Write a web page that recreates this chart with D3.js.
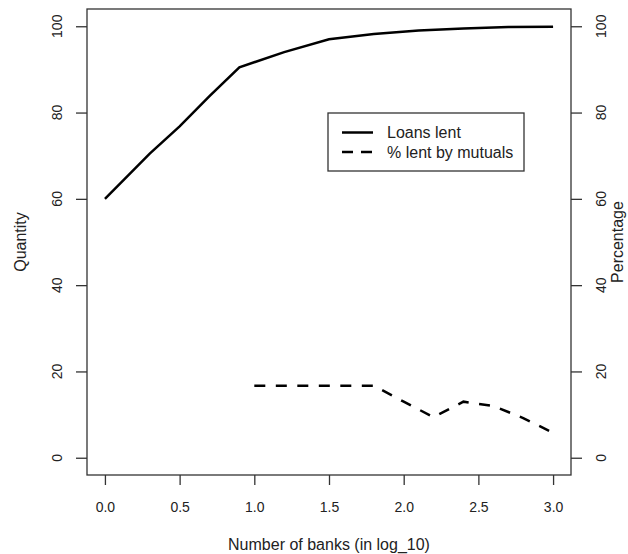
<!DOCTYPE html>
<html>
<head>
<meta charset="utf-8">
<script src="https://cdn.jsdelivr.net/npm/d3@7"></script>
<style>
  body { margin: 0; background: #fff; }
  text { font-family: "Liberation Sans", Arial, sans-serif; fill: #222; }
</style>
</head>
<body>
<div class="container"></div>
<script>
// Data
var loansX = [0, 0.3, 0.5, 0.7, 0.9, 1.2, 1.5, 1.8, 2.1, 2.4, 2.7, 3.0];
var loansY = [60, 70.5, 76.8, 83.8, 90.5, 94.0, 97.0, 98.2, 99.0, 99.5, 99.8, 99.9];
var mutualX = [1.0, 1.2, 1.4, 1.6, 1.8, 2.0, 2.2, 2.4, 2.6, 2.8, 3.0];
var mutualY = [16.7, 16.7, 16.7, 16.7, 16.7, 13.0, 9.4, 13.0, 12.0, 9.2, 5.8];
var xTicks = [0, 0.5, 1, 1.5, 2, 2.5, 3];
var yTicks = [0, 20, 40, 60, 80, 100];
var legendLabels = ['Loans lent', '% lent by mutuals'];

(function() {
  var opts = {
    width: 628,
    height: 554,
    left: 87,
    right: 571,
    top: 9,
    bottom: 475
  };

  var svg = d3.select('div.container').append('svg')
    .attr('width', opts.width).attr('height', opts.height);

  // R style scales, 4% padding on each side
  var x = d3.scaleLinear().domain([-0.12, 3.12]).range([opts.left, opts.right]);
  var y = d3.scaleLinear().domain([-4, 104]).range([opts.bottom, opts.top]);

  var line = d3.line()
    .x(function(d) { return x(d[0]); })
    .y(function(d) { return y(d[1]); });

  // plot box
  svg.append('rect')
    .attr('x', opts.left).attr('y', opts.top)
    .attr('width', opts.right - opts.left).attr('height', opts.bottom - opts.top)
    .attr('fill', 'none').attr('stroke', '#333').attr('stroke-width', 1.3);

  // bottom axis
  var xAxis = svg.append('g').attr('transform', 'translate(0,' + opts.bottom + ')')
    .call(d3.axisBottom(x).tickValues(xTicks).tickSize(10).tickFormat(d3.format('.1f')));
  xAxis.select('.domain').remove();
  xAxis.selectAll('line').attr('stroke', '#333').attr('stroke-width', 1.3);
  xAxis.selectAll('text').attr('font-size', 14).attr('dy', 0).attr('y', 37)
    .attr('font-family', '"Liberation Sans", Arial, sans-serif').attr('fill', '#222');

  // left and right axes, labels rotated like R
  var sides = [
    { axis: d3.axisLeft(y), at: opts.left, labelX: 62 },
    { axis: d3.axisRight(y), at: opts.right, labelX: 606 }
  ];
  sides.forEach(function(s) {
    var g = svg.append('g').attr('transform', 'translate(' + s.at + ',0)')
      .call(s.axis.tickValues(yTicks).tickSize(11));
    g.select('.domain').remove();
    g.selectAll('line').attr('stroke', '#333').attr('stroke-width', 1.3);
    g.selectAll('text').remove();
    yTicks.forEach(function(t) {
      svg.append('text')
        .attr('transform', 'translate(' + s.labelX + ',' + y(t) + ') rotate(-90)')
        .attr('text-anchor', 'middle').attr('font-size', 14)
        .text(t);
    });
  });

  // series
  svg.append('path')
    .datum(d3.zip(loansX, loansY))
    .attr('d', line).attr('fill', 'none')
    .attr('stroke', '#000').attr('stroke-width', 2.5);

  svg.append('path')
    .datum(d3.zip(mutualX, mutualY))
    .attr('d', line).attr('fill', 'none')
    .attr('stroke', '#000').attr('stroke-width', 2.5)
    .attr('stroke-dasharray', '11 10.5');

  // axis titles
  svg.append('text')
    .attr('x', (opts.left + opts.right) / 2).attr('y', 550)
    .attr('text-anchor', 'middle').attr('font-size', 16)
    .text('Number of banks (in log_10)');
  svg.append('text')
    .attr('transform', 'translate(26,' + (opts.top + opts.bottom) / 2 + ') rotate(-90)')
    .attr('text-anchor', 'middle').attr('font-size', 16)
    .text('Quantity');
  svg.append('text')
    .attr('transform', 'translate(623,' + (opts.top + opts.bottom) / 2 + ') rotate(-90)')
    .attr('text-anchor', 'middle').attr('font-size', 16)
    .text('Percentage');

  // legend
  var legend = svg.append('g');
  legend.append('rect')
    .attr('x', 328).attr('y', 113).attr('width', 196).attr('height', 58)
    .attr('fill', '#fff').attr('stroke', '#333').attr('stroke-width', 1.3);
  legendLabels.forEach(function(label, i) {
    var ly = 132.5 + i * 19.5;
    legend.append('line')
      .attr('x1', 342).attr('x2', 373).attr('y1', ly).attr('y2', ly)
      .attr('stroke', '#000').attr('stroke-width', 2.5)
      .attr('stroke-dasharray', i === 1 ? '11 8' : null);
    legend.append('text')
      .attr('x', 387).attr('y', ly + 5.5).attr('font-size', 16)
      .text(label);
  });
}).call(this);
</script>
</body>
</html>
